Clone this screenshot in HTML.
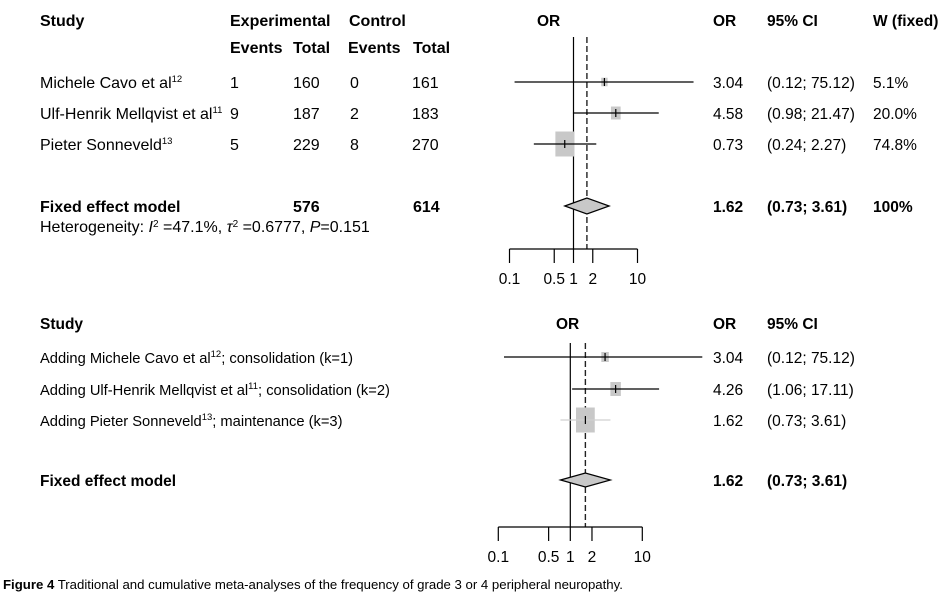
<!DOCTYPE html>
<html><head><meta charset="utf-8">
<style>
body{margin:0;background:#fff;}
svg{display:block;font-family:"Liberation Sans",Arial,sans-serif;}
.t{font-size:15.5px;fill:#000;}
.l{font-size:16px;}
.c{font-size:14.7px;}
.b{font-weight:bold;}
</style></head>
<body>
<svg id="chart" width="952" height="599" viewBox="0 0 952 599" xmlns="http://www.w3.org/2000/svg">
<g id="top">
<text class="t l b" x="40" y="26">Study</text>
<text class="t l b" x="230" y="26">Experimental</text>
<text class="t l b" x="349" y="26">Control</text>
<text class="t l b" x="230" y="53">Events</text>
<text class="t l b" x="293" y="53">Total</text>
<text class="t l b" x="348" y="53">Events</text>
<text class="t l b" x="413" y="53">Total</text>
<text class="t b" x="537" y="26">OR</text>
<text class="t b" x="713" y="26">OR</text>
<text class="t b" x="767" y="26">95% CI</text>
<text class="t b" x="873" y="26">W (fixed)</text>
<text class="t l b" x="40" y="212">Fixed effect model</text>
<text class="t l b" x="293" y="212">576</text>
<text class="t l b" x="413" y="212">614</text>
<text class="t l" x="40" y="232">Heterogeneity: <tspan font-style="italic">I</tspan><tspan font-size="10" dy="-5">2</tspan><tspan dy="5"> =47.1%, </tspan><tspan font-style="italic">τ</tspan><tspan font-size="10" dy="-5">2</tspan><tspan dy="5"> =0.6777, </tspan><tspan font-style="italic">P</tspan>=0.151</text>
</g>
<g id="bot">
<text class="t b" x="40" y="329">Study</text>
<text class="t b" x="556" y="329">OR</text>
<text class="t b" x="713" y="329">OR</text>
<text class="t b" x="767" y="329">95% CI</text>
<text class="t b" x="40" y="486">Fixed effect model</text>
</g>
<text x="3" y="589" font-size="13.2"><tspan font-weight="bold">Figure 4</tspan> Traditional and cumulative meta-analyses of the frequency of grade 3 or 4 peripheral neuropathy.</text>
</svg>
<script>
const NS="http://www.w3.org/2000/svg";
const topStudies=["Michele Cavo et al","Ulf-Henrik Mellqvist et al","Pieter Sonneveld"];
const topRefs=["12","11","13"];
const expEvents=[1,9,5];
const expTotal=[160,187,229];
const ctlEvents=[0,2,8];
const ctlTotal=[161,183,270];
const topOR=[3.04,4.58,0.73];
const topLo=[0.12,0.98,0.24];
const topHi=[75.12,21.47,2.27];
const topW=[5.1,20.0,74.8];
const pooledOR=1.62, pooledLo=0.73, pooledHi=3.61;
const cumLabels=["Adding Michele Cavo et al","Adding Ulf-Henrik Mellqvist et al","Adding Pieter Sonneveld"];
const cumRefs=["12","11","13"];
const cumSuffix=["; consolidation (k=1)","; consolidation (k=2)","; maintenance (k=3)"];
const cumOR=[3.04,4.26,1.62];
const cumLo=[0.12,1.06,0.73];
const cumHi=[75.12,17.11,3.61];
const cumBox=[10,14,25];
const ticks=[0.1,0.5,1,2,10];
const tickLabels=["0.1","0.5","1","2","10"];
const fmt=v=>v.toFixed(2);

function mk(tag,attrs,parent){const e=document.createElementNS(NS,tag);for(const k in attrs)e.setAttribute(k,attrs[k]);parent.appendChild(e);return e;}
function txt(x,y,s,parent,bold,extra){const e=mk('text',{x:x,y:y,class:'t'+(bold?' b':'')+(extra?' '+extra:'')},parent);e.textContent=s;return e;}

function drawPlot(g,x0,dec,rowsY,fixedY,yTop,axisY,ors,los,his,boxes,lightLast,diaH){
  const X=v=>x0+dec*Math.log10(v/0.1);
  const xmin=X(0.1),xmax=X(10);
  const clip=v=>Math.max(xmin-5,Math.min(v,xmax+60));
  let l=mk('line',{x1:X(1),x2:X(1),y1:yTop,y2:axisY,stroke:'#000','stroke-width':1.2},g);
  
  l=mk('line',{x1:X(pooledOR),x2:X(pooledOR),y1:yTop,y2:axisY,stroke:'#222','stroke-width':1.4,'stroke-dasharray':'6,3'},g);
  
  for(let i=0;i<ors.length;i++){
    const y=rowsY[i];
    const h=boxes[i],w=h*0.75;
    const r=mk('rect',{x:X(ors[i])-w/2,y:y-h/2,width:w,height:h,fill:'#c8c8c8'},g);
    
    const light=lightLast&&i===ors.length-1;
    const c=mk('line',{x1:clip(X(los[i])),x2:clip(X(his[i])),y1:y,y2:y,stroke:light?'#d0d0d0':'#000','stroke-width':1.2},g);
    
    const m=mk('line',{x1:X(ors[i]),x2:X(ors[i]),y1:y-4,y2:y+4,stroke:'#000','stroke-width':1.2},g);
    
  }
  const a=X(pooledLo),b=X(pooledHi),c=X(pooledOR);
  const d=mk('polygon',{points:`${a},${fixedY} ${c},${fixedY-diaH} ${b},${fixedY} ${c},${fixedY+diaH}`,fill:'#c8c8c8',stroke:'#000','stroke-width':1.2},g);
  
  const ax=mk('line',{x1:xmin,x2:xmax,y1:axisY,y2:axisY,stroke:'#000','stroke-width':1.2},g);
  
  ticks.forEach((t,i)=>{
    const tk=mk('line',{x1:X(t),x2:X(t),y1:axisY,y2:axisY+14,stroke:'#000','stroke-width':1.2},g);
    
    const tl=txt(X(t),axisY+35,tickLabels[i],g);
    tl.setAttribute('text-anchor','middle');
    
  });
}

const gT=document.getElementById('top');
const rowsT=[82,113,144];
topStudies.forEach((s,i)=>{
  const y=rowsT[i]+6;
  const e=txt(40,y,s,gT,false,'l');
  const sp=mk('tspan',{'font-size':'9.5',dy:'-6'},e);sp.textContent=topRefs[i];
  
  [[230,expEvents[i]],[293,expTotal[i]],[350,ctlEvents[i]],[412,ctlTotal[i]]].forEach(p=>{
    const t=txt(p[0],y,String(p[1]),gT,false,'l');
    
  });
  let t=txt(713,y,fmt(topOR[i]),gT);
  t=txt(767,y,`(${fmt(topLo[i])}; ${fmt(topHi[i])})`,gT);
  t=txt(873,y,topW[i].toFixed(1)+'%',gT);
});
let t=txt(713,212,fmt(pooledOR),gT,true);
t=txt(767,212,`(${fmt(pooledLo)}; ${fmt(pooledHi)})`,gT,true);
t=txt(873,212,'100%',gT,true);
drawPlot(gT,509.5,64,rowsT,206,37,249,topOR,topLo,topHi,topW.map(w=>25*Math.sqrt(w/74.8)+ (w<10?2:0)),false,8);

const gB=document.getElementById('bot');
const rowsB=[357,389,420];
cumLabels.forEach((s,i)=>{
  const y=rowsB[i]+6;
  const e=txt(40,y,s,gB,false,'c');
  const sp=mk('tspan',{'font-size':'9.5',dy:'-6'},e);sp.textContent=cumRefs[i];
  const sp2=mk('tspan',{dy:'6'},e);sp2.textContent=cumSuffix[i];
  
  let t=txt(713,y,fmt(cumOR[i]),gB);
  t=txt(767,y,`(${fmt(cumLo[i])}; ${fmt(cumHi[i])})`,gB);
});
t=txt(713,486,fmt(pooledOR),gB,true);
t=txt(767,486,`(${fmt(pooledLo)}; ${fmt(pooledHi)})`,gB,true);
drawPlot(gB,498.3,72,rowsB,480,343,527,cumOR,cumLo,cumHi,cumBox,true,7);
</script>
</body></html>
